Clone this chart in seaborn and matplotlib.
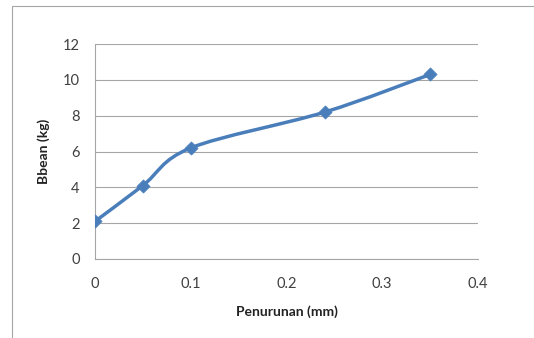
import matplotlib
matplotlib.use("Agg")
import matplotlib.pyplot as plt
import seaborn as sns
import numpy as np
import pandas as pd
from matplotlib.path import Path
from matplotlib.patches import PathPatch, Rectangle

# data
penurunan = [0.0, 0.05, 0.10, 0.24, 0.35]
beban = [2.1, 4.1, 6.2, 8.2, 10.3]
x_ticks = [0, 0.1, 0.2, 0.3, 0.4]
x_tick_labels = ["0", "0.1", "0.2", "0.3", "0.4"]
y_ticks = [0, 2, 4, 6, 8, 10, 12]
x_label = "Penurunan (mm)"
y_label = "Bbean (kg)"

df = pd.DataFrame({"x": penurunan, "y": beban})

sns.set_style("white")
plt.rcParams["font.family"] = ["Lato", "DejaVu Sans"]

fig = plt.figure(figsize=(5.34, 3.38), dpi=100)
fig.patches.append(Rectangle((12 / 534, -0.05), 1.2, 1 - 6 / 338 + 0.05,
                             transform=fig.transFigure, fill=False,
                             edgecolor="#a6a6a6", linewidth=0.8))
ax = fig.add_axes([95 / 534, 1 - 259 / 338, (478 - 95) / 534, (259 - 44) / 338])

line_color = "#4a7ebb"

# smoothed line (Excel-style Bezier smoothing through the data points)
pts = np.column_stack([df["x"].to_numpy(), df["y"].to_numpy()])
verts = [tuple(pts[0])]
codes = [Path.MOVETO]
n = len(pts)
for i in range(n - 1):
    p0 = pts[i - 1] if i > 0 else pts[i]
    p1 = pts[i]
    p2 = pts[i + 1]
    p3 = pts[i + 2] if i + 2 < n else pts[i + 1]
    c1 = p1 + (p2 - p0) / 6.0
    c2 = p2 - (p3 - p1) / 6.0
    verts += [tuple(c1), tuple(c2), tuple(p2)]
    codes += [Path.CURVE4] * 3
ax.add_patch(PathPatch(Path(verts, codes), fill=False, edgecolor=line_color,
                       linewidth=2.5, capstyle="round", joinstyle="round", zorder=3))

sns.scatterplot(data=df, x="x", y="y", marker="D", s=45, color=line_color,
                edgecolor=line_color, linewidth=0.5, ax=ax, zorder=4)

ax.set_xlim(0, 0.4)
ax.set_ylim(0, 12)
ax.set_xticks(x_ticks)
ax.set_xticklabels(x_tick_labels)
ax.set_yticks(y_ticks)

ax.grid(axis="y", color="#a6a6a6", linewidth=0.8)
ax.grid(axis="x", visible=False)
ax.set_axisbelow(True)
for s in ["top", "right"]:
    ax.spines[s].set_visible(False)
for s in ["left", "bottom"]:
    ax.spines[s].set_color("#a6a6a6")
    ax.spines[s].set_linewidth(0.8)

ax.tick_params(axis="both", which="major", direction="out", length=4, width=0.8,
               color="#a6a6a6", labelsize=10.5, labelcolor="#404040")
ax.tick_params(axis="x", pad=9)
ax.tick_params(axis="y", pad=7)

ax.set_xlabel(x_label, fontsize=10, fontweight="bold", color="#222222", labelpad=10)
ax.set_ylabel(y_label, fontsize=10, fontweight="bold", color="#222222", labelpad=9)

fig.savefig("out.png", dpi=100)
